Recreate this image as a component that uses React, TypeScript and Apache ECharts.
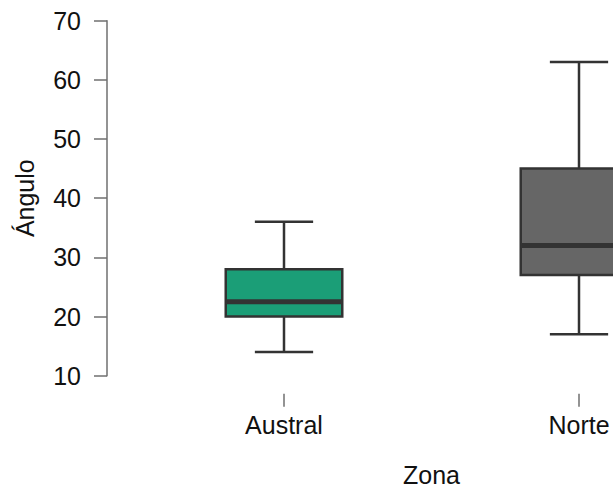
import React, { useEffect, useRef } from "react";
import * as echarts from "echarts";

const zones = ["Austral", "Norte"];
const mins = [14, 17];
const q1s = [20, 27];
const medians = [22.5, 32];
const q3s = [28, 45];
const maxs = [36, 63];
const boxColors = ["#1b9e77", "#666666"];
const yTicks = { min: 10, max: 70, interval: 10 };

const FONT = "'Liberation Sans', Arial, sans-serif";
const FS = 25;
const TXT = "#111111";

export default function App() {
  const ref = useRef<HTMLDivElement>(null);
  useEffect(() => {
    if (!ref.current) return;
    const chart = echarts.init(ref.current, null, { renderer: "svg" });
    const data = zones.map((_, i) => [i, mins[i], q1s[i], medians[i], q3s[i], maxs[i]]);
    const option = {
      animation: false,
      backgroundColor: "#ffffff",
      grid: {
        left: 136.5,
        top: 20.7,
        width: 590,
        height: 355,
        containLabel: false,
        outerBoundsMode: "none",
      },
      xAxis: {
        type: "category",
        data: zones,
        boundaryGap: true,
        offset: 18,
        axisLine: { show: false },
        axisTick: { show: true, alignWithLabel: true, length: 13, lineStyle: { color: "#6f6f6f", width: 1.5 } },
        axisLabel: { fontSize: FS, color: TXT, margin: 19, fontFamily: FONT },
        name: "Zona",
        nameLocation: "middle",
        nameGap: 69,
        nameTextStyle: { fontSize: FS, color: TXT, fontFamily: FONT },
        splitLine: { show: false },
      },
      yAxis: {
        type: "value",
        min: yTicks.min,
        max: yTicks.max,
        interval: yTicks.interval,
        offset: 29.5,
        axisLine: { show: true, lineStyle: { color: "#6f6f6f", width: 1.5 } },
        axisTick: { show: true, length: 13, lineStyle: { color: "#6f6f6f", width: 1.5 } },
        axisLabel: { fontSize: FS, color: TXT, margin: 26, fontFamily: FONT },
        splitLine: { show: false },
        name: "Ángulo",
        nameLocation: "middle",
        nameGap: 70,
        nameTextStyle: { fontSize: FS, color: TXT, fontFamily: FONT },
      },
      series: [
        {
          type: "custom",
          data,
          encode: { x: 0, y: [1, 2, 3, 4, 5] },
          clip: false,
          renderItem: (params: any, api: any) => {
            const idx = api.value(0);
            const band = api.size([1, 0])[0];
            const boxW = band * 0.395;
            const capW = boxW / 2;
            const pMin = api.coord([idx, api.value(1)]);
            const pQ1 = api.coord([idx, api.value(2)]);
            const pMed = api.coord([idx, api.value(3)]);
            const pQ3 = api.coord([idx, api.value(4)]);
            const pMax = api.coord([idx, api.value(5)]);
            const cx = pMed[0];
            const stroke = "#333333";
            const line = (x1: number, y1: number, x2: number, y2: number, w: number) => ({
              type: "line",
              shape: { x1, y1, x2, y2 },
              style: { stroke, lineWidth: w },
            });
            return {
              type: "group",
              children: [
                line(cx, pMax[1], cx, pQ3[1], 2.5),
                line(cx, pQ1[1], cx, pMin[1], 2.5),
                line(cx - capW / 2, pMax[1], cx + capW / 2, pMax[1], 2.5),
                line(cx - capW / 2, pMin[1], cx + capW / 2, pMin[1], 2.5),
                {
                  type: "rect",
                  shape: { x: cx - boxW / 2, y: pQ3[1], width: boxW, height: pQ1[1] - pQ3[1] },
                  style: { fill: boxColors[idx], stroke, lineWidth: 2.5 },
                },
                line(cx - boxW / 2, pMed[1], cx + boxW / 2, pMed[1], 5),
              ],
            };
          },
        },
      ],
    };
    chart.setOption(option as any);
    return () => chart.dispose();
  }, []);
  return (
    <div
      ref={ref}
      style={{ position: "fixed", left: 0, top: 0, width: 613, height: 489 }}
    />
  );
}
